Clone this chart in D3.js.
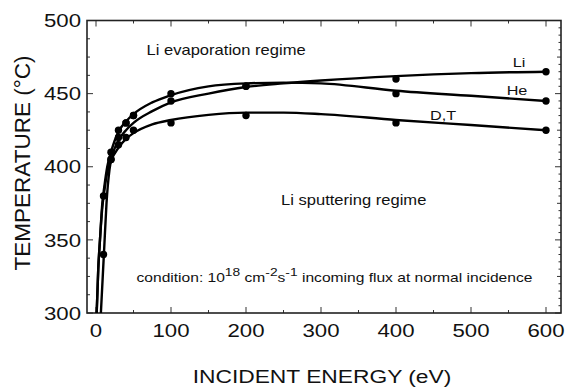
<!DOCTYPE html>
<html>
<head>
<meta charset="utf-8">
<script src="https://cdn.jsdelivr.net/npm/d3@7"></script>
<style>
  html, body { margin: 0; padding: 0; background: #fff; }
  svg { display: block; }
  text { font-family: "Liberation Sans", Arial, Helvetica, sans-serif; fill: #111; }
</style>
</head>
<body>
<svg id="chart" width="568" height="388"></svg>
<script>
// Axis ticks
const xTicks = [0, 100, 200, 300, 400, 500, 600];
const yTicks = [300, 350, 400, 450, 500];

// Computed surface temperature (°C) at each incident energy (eV)
const liEnergy = [10, 20, 30, 40, 50, 100, 200, 400, 600];
const liTemp   = [340, 405, 420, 430, 435, 445, 455, 460, 465];
const heEnergy = [10, 20, 30, 40, 50, 100, 200, 400, 600];
const heTemp   = [380, 410, 425, 430, 435, 450, 455, 450, 445];
const dtEnergy = [20, 30, 40, 50, 100, 200, 400, 600];
const dtTemp   = [405, 415, 420, 425, 430, 435, 430, 425];

// Smooth fitted curves through each species' results
const liFitE = [6.5, 9, 11, 14, 18, 22, 30, 40, 50, 75, 100, 150, 200, 250, 300, 400, 500, 600];
const liFitT = [300, 325, 345, 375, 398, 408, 418, 425, 430, 438, 444, 450, 454.5, 457, 459, 462, 464, 465];
const heFitE = [0.9, 3, 5.3, 8.4, 11, 15, 20, 30, 40, 50, 75, 100, 150, 200, 250, 300, 400, 500, 600];
const heFitT = [300, 330, 350, 375, 386, 400, 410, 424, 431, 436, 444, 449, 455, 457, 457.5, 457, 452, 448.5, 445];
const dtFitE = [0.9, 3, 5.3, 8.4, 11, 15, 20, 30, 40, 50, 75, 100, 150, 200, 250, 300, 400, 500, 600];
const dtFitT = [300, 330, 350, 372, 383, 396, 404, 413, 419, 423, 429, 432, 435.5, 437, 437, 436, 432, 428.5, 425];

const curveLabels = ["Li", "He", "D,T"];

const svg = d3.select("#chart");
const plot = { left: 87, right: 561, top: 20.5, bottom: 313 };

const x = d3.scaleLinear().domain([-12, 620]).range([plot.left, plot.right]);
const y = d3.scaleLinear().domain([300, 500]).range([plot.bottom, plot.top]);

const SX = 1.2; // horizontal stretch of the lettering

function label(g, px, py, str, size, anchor) {
  return g.append("text")
    .attr("transform", `translate(${px},${py}) scale(${SX},1)`)
    .attr("text-anchor", anchor || "start")
    .attr("font-size", size)
    .text(str);
}

svg.append("defs").append("clipPath").attr("id", "clip")
  .append("rect")
  .attr("x", plot.left).attr("y", plot.top)
  .attr("width", plot.right - plot.left).attr("height", plot.bottom - plot.top);

// Tick marks (inward) on all four sides
const tickG = svg.append("g").attr("stroke", "#333").attr("stroke-width", 1);
const xMinor = d3.range(0, 601, 50);
xMinor.forEach(v => {
  const len = v % 100 === 0 ? 6 : 3;
  tickG.append("line").attr("x1", x(v)).attr("x2", x(v)).attr("y1", plot.bottom).attr("y2", plot.bottom - len);
  tickG.append("line").attr("x1", x(v)).attr("x2", x(v)).attr("y1", plot.top).attr("y2", plot.top + len);
});
d3.range(300, 501, 12.5).forEach(v => {
  const len = v % 50 === 0 ? 6 : 3;
  tickG.append("line").attr("x1", plot.left).attr("x2", plot.left + len).attr("y1", y(v)).attr("y2", y(v));
});
d3.range(300, 501, 5).forEach(v => {
  const len = v % 50 === 0 ? 6 : (v % 25 === 0 ? 4 : 2.5);
  tickG.append("line").attr("x1", plot.right).attr("x2", plot.right - len).attr("y1", y(v)).attr("y2", y(v));
});

// Frame
svg.append("rect")
  .attr("x", plot.left).attr("y", plot.top)
  .attr("width", plot.right - plot.left).attr("height", plot.bottom - plot.top)
  .attr("fill", "none").attr("stroke", "#222").attr("stroke-width", 1.6);

// Tick labels
const lab = svg.append("g");
xTicks.forEach(v => label(lab, x(v), 337, String(v), 18.5, "middle"));
yTicks.forEach(v => label(lab, 81, y(v) + 6.7, String(v), 18.5, "end"));

// Axis titles
label(svg, 322, 383, "INCIDENT ENERGY (eV)", 19, "middle");
svg.append("text")
  .attr("transform", `translate(29.5,${163}) rotate(-90)`)
  .attr("text-anchor", "middle")
  .attr("font-size", 22.5)
  .text("TEMPERATURE (°C)");

// Curves
const line = d3.line()
  .x(d => x(d[0]))
  .y(d => y(d[1]))
  .curve(d3.curveMonotoneX);

const curves = svg.append("g").attr("clip-path", "url(#clip)");
[[liFitE, liFitT], [heFitE, heFitT], [dtFitE, dtFitT]].forEach(([e, t]) => {
  curves.append("path")
    .datum(d3.zip(e, t))
    .attr("d", line)
    .attr("fill", "none")
    .attr("stroke", "#000")
    .attr("stroke-width", 2.4)
    .attr("stroke-linejoin", "round");
});

// Data points
[[liEnergy, liTemp], [heEnergy, heTemp], [dtEnergy, dtTemp]].forEach(([e, t]) => {
  curves.selectAll(null)
    .data(d3.zip(e, t))
    .enter().append("circle")
    .attr("cx", d => x(d[0]))
    .attr("cy", d => y(d[1]))
    .attr("r", 3.7)
    .attr("fill", "#000");
});

// Curve labels
label(svg, 519, 66.5, curveLabels[0], 13.5, "middle");
label(svg, 517, 94.5, curveLabels[1], 13.5, "middle");
label(svg, 443, 119.5, curveLabels[2], 13.5, "middle");

// Regime annotations
label(svg, 146.5, 54.5, "Li evaporation regime", 13.8, "start");
label(svg, 281, 205, "Li sputtering regime", 13.8, "start");

// Operating condition note with superscripts
const cond = svg.append("text")
  .attr("transform", `translate(136.5,282) scale(${SX},1)`)
  .attr("font-size", 13);
cond.append("tspan").text("condition:  10");
cond.append("tspan").attr("dy", -6).attr("font-size", 11.5).text("18");
cond.append("tspan").attr("dy", 6).text(" cm");
cond.append("tspan").attr("dy", -6).attr("font-size", 11.5).text("-2");
cond.append("tspan").attr("dy", 6).text("s");
cond.append("tspan").attr("dy", -6).attr("font-size", 11.5).text("-1");
cond.append("tspan").attr("dy", 6).text(" incoming flux at normal incidence");
</script>
</body>
</html>
